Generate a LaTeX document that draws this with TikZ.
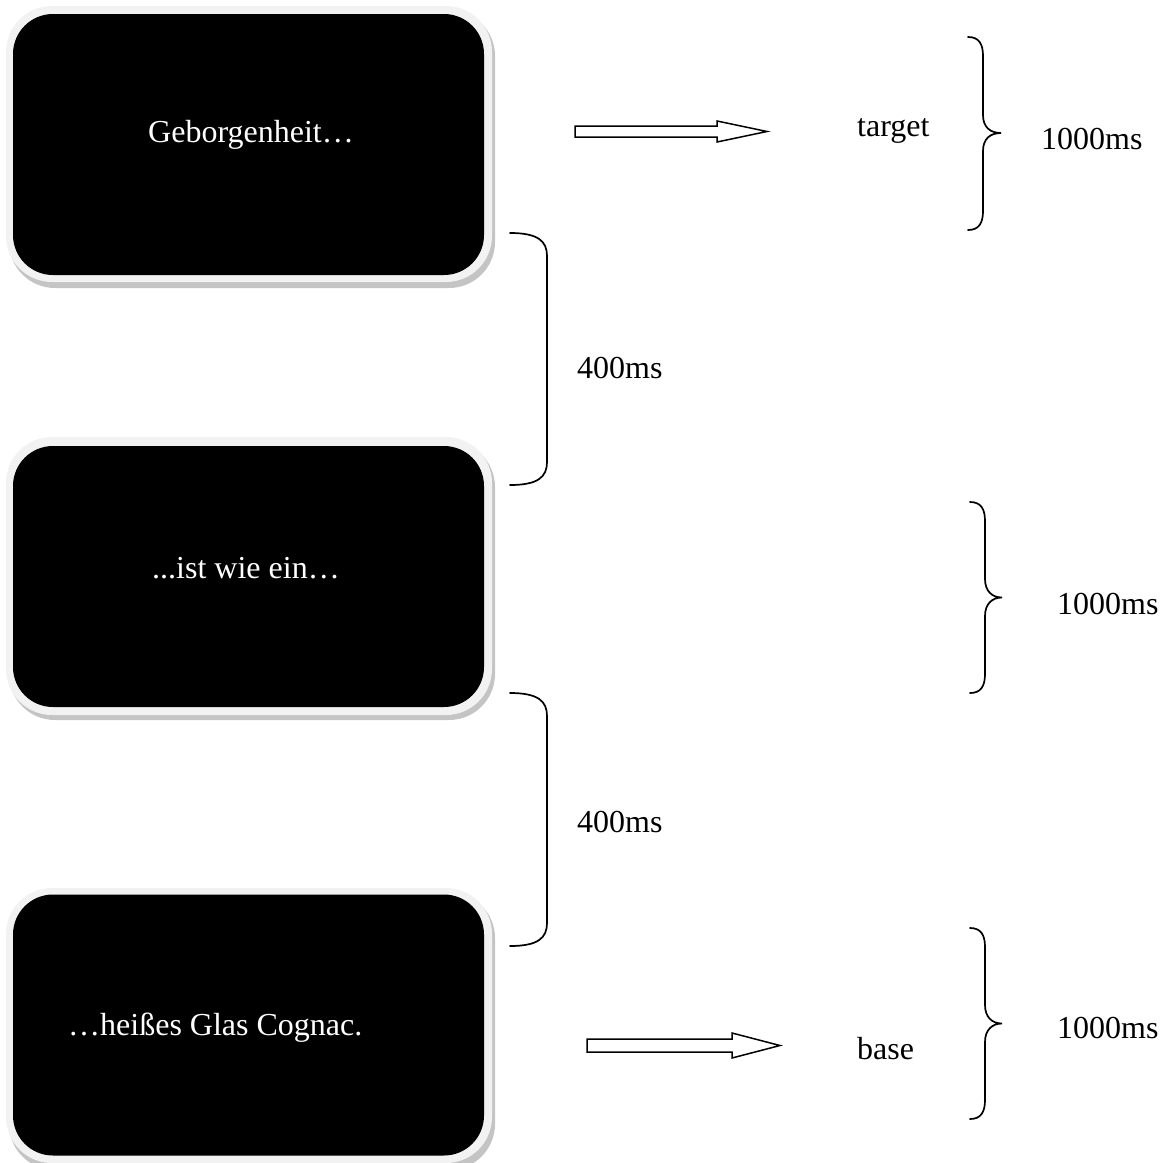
\documentclass[tikz,border=0pt]{standalone}
\usepackage{fontspec}
\setmainfont{Liberation Serif}
\definecolor{framegray}{HTML}{F2F2F2}
\definecolor{shadowgray}{HTML}{C4C4C4}
\begin{document}
\begin{tikzpicture}[x=1pt,y=-1pt,
  txt/.style={font=\fontsize{32}{38}\selectfont, inner sep=0pt, anchor=base west},
  wtxt/.style={txt, text=white},
  screen/.style={rectangle, fill=black, rounded corners=40pt, minimum width=471pt, minimum height=261pt, inner sep=0pt},
  framebox/.style={fill=framegray, rounded corners=46pt},
  shadowbox/.style={fill=shadowgray, rounded corners=46pt},
  bracketline/.style={line width=1.7pt, line cap=round},
  arrowshape/.style={draw=black, fill=white, line width=1.5pt, line join=miter}]
\useasboundingbox (0,0) rectangle (1167,1162);

% screens
\fill[shadowbox] (9,10) rectangle (495,288);
\fill[framebox] (6,6) rectangle (492,282);
\node[screen] (s1) at (248.5,144.5) {};

\fill[shadowbox] (9,441) rectangle (495,720);
\fill[framebox] (6,437) rectangle (492,715);
\node[screen] (s2) at (248.5,576.5) {};

\fill[shadowbox] (9,892) rectangle (495,1170);
\fill[framebox] (6,888) rectangle (492,1163);
\node[screen] (s3) at (248.5,1025) {};

% screen texts
\node[wtxt] (t1) at (148,142) {Geborgenheit…};
\node[wtxt] (t2) at (152,578) {...ist wie ein…};
\node[wtxt] (t3) at (68,1035) {…heißes Glas Cognac.};

% arrows
\draw[arrowshape] (575,126) -- (717,126) -- (717,121) -- (767,131.5) -- (717,142) -- (717,137) -- (575,137) -- cycle;
\draw[arrowshape] (587,1039) -- (732,1039) -- (732,1033) -- (780,1045.5) -- (732,1058) -- (732,1052) -- (587,1052) -- cycle;

\node[txt] (target) at (857,136) {target};
\node[txt] (base) at (857,1059) {base};

% 400ms brackets
\draw[bracketline] (510,233) .. controls (538,233) and (547,241) .. (547,256) -- (547,462) .. controls (547,477) and (538,485) .. (510,485);
\node[txt] (d1) at (577,378) {400ms};
\draw[bracketline] (510,693) .. controls (538,693) and (547,701) .. (547,716) -- (547,923) .. controls (547,938) and (538,946) .. (510,946);
\node[txt] (d2) at (577,832) {400ms};

% 1000ms braces
\draw[bracketline] (968,37) .. controls (979,37) and (983,44) .. (983,56) -- (983,115) .. controls (983,127) and (990,133) .. (1001,133) .. controls (990,133) and (983,139) .. (983,151) -- (983,211) .. controls (983,223) and (979,230) .. (968,230);
\node[txt] (m1) at (1041,149) {1000ms};

\draw[bracketline] (970,502) .. controls (981,502) and (985,509) .. (985,521) -- (985,579) .. controls (985,591) and (992,597.5) .. (1002,597.5) .. controls (992,597.5) and (985,604) .. (985,616) -- (985,674) .. controls (985,686) and (981,693) .. (970,693);
\node[txt] (m2) at (1057,614) {1000ms};

\draw[bracketline] (970,928) .. controls (981,928) and (985,935) .. (985,947) -- (985,1005) .. controls (985,1017) and (992,1023.5) .. (1002,1023.5) .. controls (992,1023.5) and (985,1030) .. (985,1042) -- (985,1100) .. controls (985,1112) and (981,1119) .. (970,1119);
\node[txt] (m3) at (1057,1038) {1000ms};
\end{tikzpicture}
\end{document}
